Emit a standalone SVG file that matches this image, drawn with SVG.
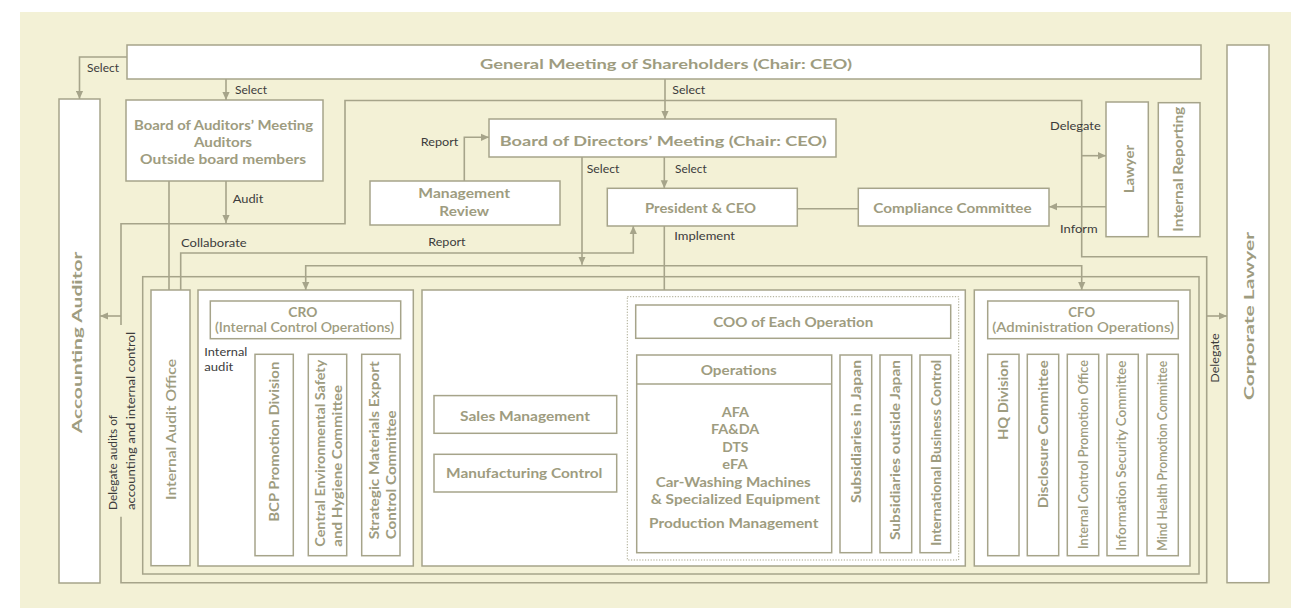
<svg xmlns="http://www.w3.org/2000/svg" width="1291" height="608" viewBox="0 0 1291 608">
<defs>
<style>
.bg{fill:#F3F1D6}
.box{fill:#FFFFFF;stroke:#A6A48A;stroke-width:1.5}
.open{fill:none;stroke:#A6A48A;stroke-width:1.5}
.dot{fill:none;stroke:#A6A48A;stroke-width:1;stroke-dasharray:1.2 1.6}
.ln{fill:none;stroke:#A6A48A;stroke-width:1.6}
.arr{marker-end:url(#ar)}
text{font-family:Lato,"Open Sans","Noto Sans",sans-serif}
.t{fill:#9E9C80;font-weight:bold;font-size:14px}
.tm{fill:#9E9C80;font-weight:600;font-size:13.5px}
.s{fill:#3C3C3C;font-size:11.5px}
.c{text-anchor:middle}
</style>
<marker id="ar" viewBox="0 0 8 8" refX="8" refY="4" markerWidth="8" markerHeight="8" markerUnits="userSpaceOnUse" orient="auto">
<path d="M0,0.4 L8,4 L0,7.6 Z" fill="#A6A48A"/>
</marker>
</defs>

<rect class="bg" x="20" y="12" width="1271" height="596"/>

<g id="connectors">
<path class="ln arr" d="M127,57 H79.5 V99"/>
<path class="ln arr" d="M226,79 V100"/>
<path class="ln arr" d="M665,79 V119"/>
<path class="ln" d="M121,325 V223.7 H345 V100.5 H1081.7 V256.7 H1206.7 V582.7 H121 V516.7"/>
<path class="ln arr" d="M121,316 H100"/>
<path class="ln arr" d="M1081.7,155.7 H1106"/>
<path class="ln arr" d="M1206.7,316 H1227"/>
<path class="ln arr" d="M226,181 V223"/>
<path class="ln" d="M169,181 V290"/>
<path class="ln arr" d="M464.3,181 V137.3 H489"/>
<path class="ln arr" d="M582,156.7 V264.8"/>
<path class="ln arr" d="M664.3,156.7 V188.3"/>
<path class="ln" d="M797.3,208.7 H858.3"/>
<path class="ln arr" d="M1106,206.7 H1049"/>
<path class="ln arr" d="M180.7,290 V253 H633.3 V226"/>
<path class="ln arr" d="M664.3,226 V305"/>
<path class="ln arr" d="M610,265.7 H305.7 V290"/>
<path class="ln arr" d="M600,265.7 H1081.7 V290"/>
<path class="ln" d="M273.3,338.7 V354.3 M326.7,338.7 V354.3 M380,338.7 V354.3"/>
<path class="ln" d="M1004,338.7 V354.3 M1043.3,338.7 V354.3 M1082.7,338.7 V354.3 M1122.7,338.7 V354.3 M1162.7,338.7 V354.3"/>
<path class="ln" d="M734.3,338.3 V355 M734.3,346.7 H894.3 V355 M855,346.7 V355 M911.7,453.3 H920"/>
<path class="ln" d="M616.7,415 H627.3 M616.7,471 H627.3"/>
</g>

<g id="general-meeting">
<rect class="box" x="127" y="45" width="1074" height="34"/>
<text class="t c" x="666" y="68.5" font-size="18" textLength="372" lengthAdjust="spacingAndGlyphs">General Meeting of Shareholders (Chair: CEO)</text>
</g>
<g id="label-select-1"><text class="s" x="87" y="72" textLength="32" lengthAdjust="spacingAndGlyphs">Select</text></g>
<g id="label-select-2"><text class="s" x="235" y="93.5" textLength="32" lengthAdjust="spacingAndGlyphs">Select</text></g>
<g id="label-select-3"><text class="s" x="672.3" y="94" textLength="33" lengthAdjust="spacingAndGlyphs">Select</text></g>

<g id="accounting-auditor">
<rect class="box" x="59" y="99" width="41" height="484"/>
<text class="t" transform="translate(81.7,433.3) rotate(-90)" font-size="21" textLength="181.6" lengthAdjust="spacingAndGlyphs">Accounting Auditor</text>
</g>

<g id="board-of-auditors">
<rect class="box" x="126" y="100" width="197" height="81"/>
<text class="t c" x="223.5" y="130" font-size="16" textLength="179" lengthAdjust="spacingAndGlyphs">Board of Auditors’ Meeting</text>
<text class="t c" x="223" y="147.3" textLength="58" lengthAdjust="spacingAndGlyphs">Auditors</text>
<text class="t c" x="223" y="163.5" textLength="166" lengthAdjust="spacingAndGlyphs">Outside board members</text>
</g>
<g id="label-audit"><text class="s" x="232.7" y="203.3" textLength="30.6" lengthAdjust="spacingAndGlyphs">Audit</text></g>

<g id="board-of-directors">
<rect class="box" x="489" y="119" width="347" height="38"/>
<text class="t c" x="663.3" y="145.7" font-size="18" textLength="327" lengthAdjust="spacingAndGlyphs">Board of Directors’ Meeting (Chair: CEO)</text>
</g>
<g id="label-report-1"><text class="s" x="420.7" y="146" textLength="37.6" lengthAdjust="spacingAndGlyphs">Report</text></g>

<g id="management-review">
<rect class="box" x="370" y="181" width="190" height="44"/>
<text class="t c" x="464.2" y="198.3" textLength="91.7" lengthAdjust="spacingAndGlyphs">Management</text>
<text class="t c" x="464.2" y="216" textLength="49.7" lengthAdjust="spacingAndGlyphs">Review</text>
</g>
<g id="label-select-4"><text class="s" x="586.7" y="172.7" textLength="32.7" lengthAdjust="spacingAndGlyphs">Select</text></g>
<g id="label-select-5"><text class="s" x="675" y="173.3" textLength="31.7" lengthAdjust="spacingAndGlyphs">Select</text></g>

<g id="president">
<rect class="box" x="607.3" y="188.3" width="190" height="37.7"/>
<text class="t c" x="700.5" y="213.3" font-size="15" textLength="111" lengthAdjust="spacingAndGlyphs">President &amp; CEO</text>
</g>

<g id="compliance-committee">
<rect class="box" x="858.3" y="188.3" width="190.7" height="37.7"/>
<text class="t c" x="952.5" y="212.7" font-size="15" textLength="158.3" lengthAdjust="spacingAndGlyphs">Compliance Committee</text>
</g>
<g id="label-delegate-1"><text class="s" x="1050" y="130" textLength="50.7" lengthAdjust="spacingAndGlyphs">Delegate</text></g>
<g id="label-inform"><text class="s" x="1060" y="233.3" textLength="37.7" lengthAdjust="spacingAndGlyphs">Inform</text></g>

<g id="lawyer">
<rect class="box" x="1106" y="102" width="42.3" height="134.7"/>
<text class="t" transform="translate(1133.5,193.3) rotate(-90)" font-size="14.5" textLength="48.3" lengthAdjust="spacingAndGlyphs">Lawyer</text>
</g>
<g id="internal-reporting">
<rect class="box" x="1158.3" y="102.7" width="41.7" height="134"/>
<text class="t" transform="translate(1182.5,231.7) rotate(-90)" font-size="14.5" textLength="125" lengthAdjust="spacingAndGlyphs">Internal Reporting</text>
</g>
<g id="corporate-lawyer">
<rect class="box" x="1227" y="45" width="42" height="537.7"/>
<text class="t" transform="translate(1254,400) rotate(-90)" font-size="21" textLength="168" lengthAdjust="spacingAndGlyphs">Corporate Lawyer</text>
</g>
<g id="label-delegate-2"><text class="s" transform="translate(1219.3,382.7) rotate(-90)" textLength="49.4" lengthAdjust="spacingAndGlyphs">Delegate</text></g>

<g id="label-collaborate"><text class="s" x="181" y="247.3" textLength="65.7" lengthAdjust="spacingAndGlyphs">Collaborate</text></g>
<g id="label-report-2"><text class="s" x="428.3" y="245.7" textLength="37.3" lengthAdjust="spacingAndGlyphs">Report</text></g>
<g id="label-implement"><text class="s" x="674.3" y="240" textLength="60.7" lengthAdjust="spacingAndGlyphs">Implement</text></g>
<g id="label-delegate-audits">
<text class="s" transform="translate(117.3,510) rotate(-90)" textLength="95" lengthAdjust="spacingAndGlyphs">Delegate audits of</text>
<text class="s" transform="translate(135,510) rotate(-90)" textLength="178" lengthAdjust="spacingAndGlyphs">accounting and internal control</text>
</g>

<g id="organization">
<rect class="open" x="142.7" y="276.7" width="1056.3" height="297.3"/>
</g>

<g id="internal-audit-office">
<rect class="box" x="151" y="290" width="39" height="275.7"/>
<text class="tm" transform="translate(175.7,500) rotate(-90)" font-size="15.5" textLength="141" lengthAdjust="spacingAndGlyphs">Internal Audit Office</text>
</g>

<g id="cro-group">
<rect class="box" x="198" y="290" width="215.3" height="276"/>
</g>
<g id="cro">
<rect class="box" x="210.3" y="301" width="190.4" height="37.7"/>
<text class="t c" x="302.8" y="316.5" font-size="13" textLength="29" lengthAdjust="spacingAndGlyphs">CRO</text>
<text class="tm c" x="304.5" y="331.5" font-size="13" textLength="179" lengthAdjust="spacingAndGlyphs">(Internal Control Operations)</text>
</g>
<g id="label-internal-audit">
<text class="s" x="204.3" y="356" textLength="43" lengthAdjust="spacingAndGlyphs">Internal</text>
<text class="s" x="204.3" y="371" textLength="29" lengthAdjust="spacingAndGlyphs">audit</text>
</g>
<g id="bcp">
<rect class="box" x="255" y="354.3" width="38.3" height="201.4"/>
<text class="t" transform="translate(278.8,521.7) rotate(-90)" textLength="160" lengthAdjust="spacingAndGlyphs">BCP Promotion Division</text>
</g>
<g id="central-env">
<rect class="box" x="308.3" y="354.3" width="38.4" height="201.4"/>
<text class="t" transform="translate(325,546.7) rotate(-90)" textLength="187" lengthAdjust="spacingAndGlyphs">Central Environmental Safety</text>
<text class="t" transform="translate(341.5,546.7) rotate(-90)" textLength="161.7" lengthAdjust="spacingAndGlyphs">and Hygiene Committee</text>
</g>
<g id="strategic-materials">
<rect class="box" x="361.7" y="354.3" width="38.3" height="201.4"/>
<text class="t" transform="translate(378.5,539.3) rotate(-90)" textLength="178" lengthAdjust="spacingAndGlyphs">Strategic Materials Export</text>
<text class="t" transform="translate(395.5,539.3) rotate(-90)" textLength="129" lengthAdjust="spacingAndGlyphs">Control Committee</text>
</g>

<g id="operations-group">
<rect class="box" x="422" y="290" width="543.3" height="276"/>
<rect class="dot" x="627.3" y="296.7" width="331.4" height="263.3"/>
</g>
<g id="coo">
<rect class="box" x="635.7" y="305" width="315" height="33.3"/>
<text class="t c" x="793.3" y="326.7" font-size="15" textLength="160" lengthAdjust="spacingAndGlyphs">COO of Each Operation</text>
</g>
<g id="operations">
<rect class="box" x="636.7" y="355" width="195" height="197.7"/>
<line class="open" x1="636.7" y1="384" x2="831.7" y2="384"/>
<text class="t c" x="738.7" y="375" textLength="76" lengthAdjust="spacingAndGlyphs">Operations</text>
<text class="t c" x="735.3" y="416.7" textLength="27.3" lengthAdjust="spacingAndGlyphs">AFA</text>
<text class="t c" x="735.2" y="434.3" textLength="48.3" lengthAdjust="spacingAndGlyphs">FA&amp;DA</text>
<text class="t c" x="735.3" y="452.3" textLength="26" lengthAdjust="spacingAndGlyphs">DTS</text>
<text class="t c" x="735" y="469.3" textLength="25.3" lengthAdjust="spacingAndGlyphs">eFA</text>
<text class="t c" x="733.2" y="487.3" textLength="155" lengthAdjust="spacingAndGlyphs">Car-Washing Machines</text>
<text class="t c" x="735.3" y="504" textLength="169.3" lengthAdjust="spacingAndGlyphs">&amp; Specialized Equipment</text>
<text class="t c" x="733.7" y="527.7" textLength="169.3" lengthAdjust="spacingAndGlyphs">Production Management</text>
</g>
<g id="subsidiaries-japan">
<rect class="box" x="840" y="355" width="31.7" height="197.7"/>
<text class="t" transform="translate(860.5,503) rotate(-90)" textLength="143" lengthAdjust="spacingAndGlyphs">Subsidiaries in Japan</text>
</g>
<g id="subsidiaries-outside">
<rect class="box" x="880" y="355" width="31.7" height="197.7"/>
<text class="t" transform="translate(900,540) rotate(-90)" textLength="180" lengthAdjust="spacingAndGlyphs">Subsidiaries outside Japan</text>
</g>
<g id="international-business">
<rect class="box" x="920" y="355" width="30.7" height="197.7"/>
<text class="t" transform="translate(940.5,545.7) rotate(-90)" textLength="186" lengthAdjust="spacingAndGlyphs">International Business Control</text>
</g>
<g id="sales-management">
<rect class="box" x="434" y="395.6" width="182.7" height="37.7"/>
<text class="t c" x="525" y="421" textLength="130" lengthAdjust="spacingAndGlyphs">Sales Management</text>
</g>
<g id="manufacturing-control">
<rect class="box" x="434" y="454.3" width="182.7" height="37.7"/>
<text class="t c" x="524.2" y="478.3" textLength="156.3" lengthAdjust="spacingAndGlyphs">Manufacturing Control</text>
</g>

<g id="cfo-group">
<rect class="box" x="974.3" y="290" width="215.7" height="276"/>
</g>
<g id="cfo">
<rect class="box" x="987.7" y="301" width="190.6" height="37.7"/>
<text class="t c" x="1081.7" y="316.5" font-size="13" textLength="26.7" lengthAdjust="spacingAndGlyphs">CFO</text>
<text class="tm c" x="1083.2" y="331.5" font-size="13" textLength="181.7" lengthAdjust="spacingAndGlyphs">(Administration Operations)</text>
</g>
<g id="hq-division">
<rect class="box" x="987.7" y="354.3" width="31.3" height="201.4"/>
<text class="t" transform="translate(1008.3,440) rotate(-90)" textLength="80" lengthAdjust="spacingAndGlyphs">HQ Division</text>
</g>
<g id="disclosure-committee">
<rect class="box" x="1027.3" y="354.3" width="31.4" height="201.4"/>
<text class="t" transform="translate(1048,508.3) rotate(-90)" textLength="148" lengthAdjust="spacingAndGlyphs">Disclosure Committee</text>
</g>
<g id="internal-control-promotion">
<rect class="box" x="1067.3" y="354.3" width="31.4" height="201.4"/>
<text class="tm" transform="translate(1088,549) rotate(-90)" font-size="12.5" textLength="189" lengthAdjust="spacingAndGlyphs">Internal Control Promotion Office</text>
</g>
<g id="information-security">
<rect class="box" x="1107" y="354.3" width="31.3" height="201.4"/>
<text class="tm" transform="translate(1126,550.7) rotate(-90)" font-size="12.5" textLength="190" lengthAdjust="spacingAndGlyphs">Information Security Committee</text>
</g>
<g id="mind-health">
<rect class="box" x="1147" y="354.3" width="31.3" height="201.4"/>
<text class="tm" transform="translate(1167,550.7) rotate(-90)" font-size="12.5" textLength="190" lengthAdjust="spacingAndGlyphs">Mind Health Promotion Committee</text>
</g>
</svg>
